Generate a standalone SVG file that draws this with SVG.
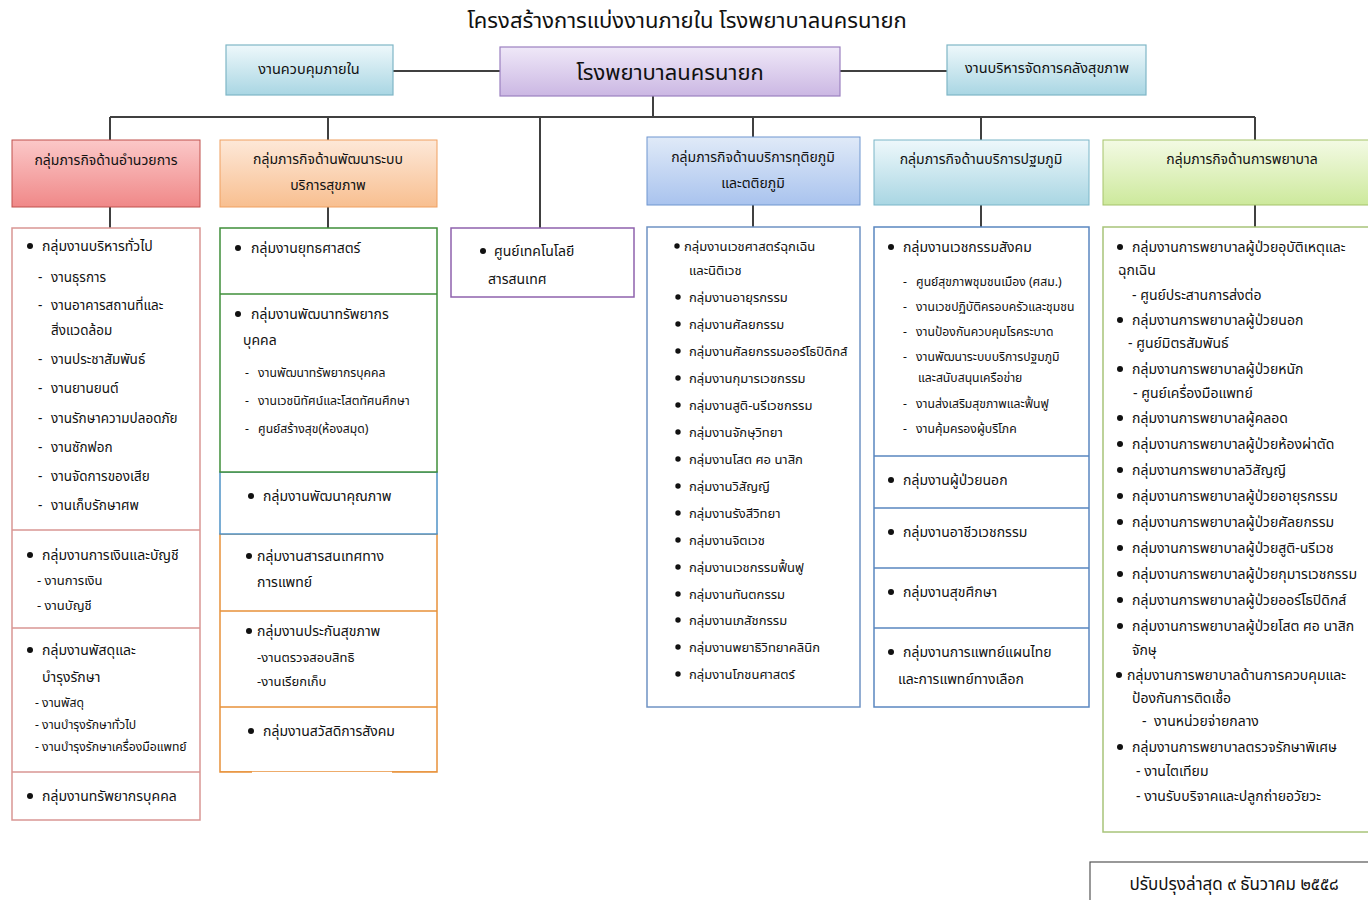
<svg xmlns="http://www.w3.org/2000/svg" width="1368" height="900" viewBox="0 0 1368 900">
<defs>
<linearGradient id="gTeal" x1="0" y1="0" x2="0" y2="1"><stop offset="0" stop-color="#eef8fb"/><stop offset="1" stop-color="#a9d6e3"/></linearGradient>
<linearGradient id="gPurple" x1="0" y1="0" x2="0" y2="1"><stop offset="0" stop-color="#efe8f8"/><stop offset="1" stop-color="#cbb7e3"/></linearGradient>
<linearGradient id="gRed" x1="0" y1="0" x2="0" y2="1"><stop offset="0" stop-color="#fbc8c8"/><stop offset="1" stop-color="#f08888"/></linearGradient>
<linearGradient id="gOrange" x1="0" y1="0" x2="0" y2="1"><stop offset="0" stop-color="#fde8d8"/><stop offset="1" stop-color="#f8bf90"/></linearGradient>
<linearGradient id="gBlue" x1="0" y1="0" x2="0" y2="1"><stop offset="0" stop-color="#e0eaf8"/><stop offset="1" stop-color="#a9c3ee"/></linearGradient>
<linearGradient id="gGreen" x1="0" y1="0" x2="0" y2="1"><stop offset="0" stop-color="#f3fae4"/><stop offset="1" stop-color="#cde99c"/></linearGradient>
</defs>
<style>
text{font-family:"Noto Sans Thai","Noto Sans","DejaVu Sans",sans-serif;fill:#111}
.t{font-size:22px}
.hq{font-size:22px}
.h{font-size:14px}
.top{font-size:14.5px}
.i{font-size:13px}
.s2{font-size:13.5px}
.s3{font-size:13px}
.xs{font-size:12.2px}
.ft{font-size:17px}
.c{text-anchor:middle}
.ln{stroke:#404040;stroke-width:2;fill:none}
.b{fill:#111}
</style>
<rect width="1368" height="900" fill="#ffffff"/>
<text class="t c" x="687" y="28">โครงสร้างการแบ่งงานภายใน โรงพยาบาลนครนายก</text>

<g id="connectors">
<path class="ln" d="M393 71H500M840 71H947M653 96V117M110 117H1255M110 117V140M328 117V140M540 117V228M753 117V137M981 117V140M1255 117V140M110 207V228M328 207V228M753 205V227M981 205V227M1255 205V227"/>
</g>

<g id="internal-control">
<rect x="226" y="45" width="167" height="50" fill="url(#gTeal)" stroke="#7fb6c6" stroke-width="1.2"/>
<text class="top c" x="309" y="74">งานควบคุมภายใน</text>
</g>
<g id="hospital">
<rect x="500" y="47" width="340" height="49" fill="url(#gPurple)" stroke="#9b80c0" stroke-width="1.2"/>
<text class="hq c" x="670" y="80">โรงพยาบาลนครนายก</text>
</g>
<g id="health-store">
<rect x="947" y="45" width="199" height="50" fill="url(#gTeal)" stroke="#7fb6c6" stroke-width="1.2"/>
<text class="top c" x="1047" y="73">งานบริหารจัดการคลังสุขภาพ</text>
</g>

<!-- Column 1 -->
<g id="admin-head">
<rect x="12" y="140" width="188" height="67" fill="url(#gRed)" stroke="#c0504d" stroke-width="1"/>
<text class="h c" x="106" y="165">กลุ่มภารกิจด้านอำนวยการ</text>
</g>
<g id="admin-body" fill="none" stroke="#d99694" stroke-width="1.5">
<rect x="12" y="228" width="188" height="592" fill="#fff"/>
<path d="M12 530H200M12 628H200M12 772H200"/>
</g>
<g id="admin-text">
<circle class="b" cx="30" cy="246" r="3"/><text class="h" x="42" y="251">กลุ่มงานบริหารทั่วไป</text>
<text class="s2" x="38" y="282">-</text><text class="s2" x="51" y="282">งานธุรการ</text>
<text class="s2" x="38" y="310">-</text><text class="s2" x="51" y="310">งานอาคารสถานที่และ</text>
<text class="s2" x="51" y="335">สิ่งแวดล้อม</text>
<text class="s2" x="38" y="364">-</text><text class="s2" x="51" y="364">งานประชาสัมพันธ์</text>
<text class="s2" x="38" y="393">-</text><text class="s2" x="51" y="393">งานยานยนต์</text>
<text class="s2" x="38" y="423">-</text><text class="s2" x="51" y="423">งานรักษาความปลอดภัย</text>
<text class="s2" x="38" y="452">-</text><text class="s2" x="51" y="452">งานซักฟอก</text>
<text class="s2" x="38" y="481">-</text><text class="s2" x="51" y="481">งานจัดการของเสีย</text>
<text class="s2" x="38" y="510">-</text><text class="s2" x="51" y="510">งานเก็บรักษาศพ</text>
<circle class="b" cx="30" cy="555" r="3"/><text class="h" x="42" y="560">กลุ่มงานการเงินและบัญชี</text>
<text class="s3" x="37" y="585">- งานการเงิน</text>
<text class="s3" x="37" y="610">- งานบัญชี</text>
<circle class="b" cx="30" cy="650" r="3"/><text class="h" x="42" y="655">กลุ่มงานพัสดุและ</text>
<text class="h" x="42" y="682">บำรุงรักษา</text>
<text class="xs" x="35" y="707">- งานพัสดุ</text>
<text class="xs" x="35" y="729">- งานบำรุงรักษาทั่วไป</text>
<text class="xs" x="35" y="751">- งานบำรุงรักษาเครื่องมือแพทย์</text>
<circle class="b" cx="30" cy="796" r="3"/><text class="h" x="42" y="801">กลุ่มงานทรัพยากรบุคคล</text>
</g>

<!-- Column 2 -->
<g id="system-head">
<rect x="220" y="140" width="217" height="67" fill="url(#gOrange)" stroke="#f0a060" stroke-width="1"/>
<text class="h c" x="328" y="164">กลุ่มภารกิจด้านพัฒนาระบบ</text>
<text class="h c" x="328" y="190">บริการสุขภาพ</text>
</g>
<g id="system-body" fill="#fff" stroke-width="1.5">
<rect x="220" y="534" width="217" height="238" stroke="#e8913a"/>
<path d="M220 611H437M220 707H437" stroke="#e8913a"/>
<rect x="220" y="772" width="217" height="4" fill="#fff" stroke="none"/>
<path d="M220 772H252M392 772H437" stroke="#e8913a"/>
<rect x="220" y="472" width="217" height="62" stroke="#4f92c6"/>
<rect x="220" y="228" width="217" height="244" stroke="#3f8f3a"/>
<path d="M220 294H437" stroke="#3f8f3a"/>
</g>
<g id="system-text">
<circle class="b" cx="238" cy="248" r="3"/><text class="h" x="251" y="253">กลุ่มงานยุทธศาสตร์</text>
<circle class="b" cx="238" cy="314" r="3"/><text class="h" x="251" y="319">กลุ่มงานพัฒนาทรัพยากร</text>
<text class="h" x="243" y="345">บุคคล</text>
<text class="xs" x="245" y="377">-</text><text class="xs" x="258" y="377">งานพัฒนาทรัพยากรบุคคล</text>
<text class="xs" x="245" y="405">-</text><text class="xs" x="258" y="405">งานเวชนิทัศน์และโสตทัศนศึกษา</text>
<text class="xs" x="245" y="433">-</text><text class="xs" x="258" y="433">ศูนย์สร้างสุข(ห้องสมุด)</text>
<circle class="b" cx="251" cy="496" r="3"/><text class="h" x="263" y="501">กลุ่มงานพัฒนาคุณภาพ</text>
<circle class="b" cx="249" cy="556" r="3"/><text class="h" x="257" y="561">กลุ่มงานสารสนเทศทาง</text>
<text class="h" x="257" y="587">การแพทย์</text>
<circle class="b" cx="249" cy="631" r="3"/><text class="h" x="257" y="636">กลุ่มงานประกันสุขภาพ</text>
<text class="s3" x="257" y="662">-งานตรวจสอบสิทธิ</text>
<text class="s3" x="257" y="686">-งานเรียกเก็บ</text>
<circle class="b" cx="251" cy="731" r="3"/><text class="h" x="263" y="736">กลุ่มงานสวัสดิการสังคม</text>
</g>

<!-- Tech -->
<g id="tech">
<rect x="451" y="228" width="183" height="69" fill="#fff" stroke="#8e62ad" stroke-width="1.5"/>
<circle class="b" cx="483" cy="251" r="3"/><text class="h" x="494" y="256">ศูนย์เทคโนโลยี</text>
<text class="h" x="488" y="284">สารสนเทศ</text>
</g>

<!-- Column 4 -->
<g id="secondary-head">
<rect x="647" y="137" width="213" height="68" fill="url(#gBlue)" stroke="#6f96cf" stroke-width="1"/>
<text class="h c" x="753" y="162">กลุ่มภารกิจด้านบริการทุติยภูมิ</text>
<text class="h c" x="753" y="188">และตติยภูมิ</text>
</g>
<g id="secondary-body">
<rect x="647" y="227" width="213" height="480" fill="#fff" stroke="#6f93c4" stroke-width="1.5"/>
<circle class="b" cx="677" cy="246" r="2.7"/><text class="i" x="684" y="251">กลุ่มงานเวชศาสตร์ฉุกเฉิน</text>
<text class="i" x="689" y="275">และนิติเวช</text>
<circle class="b" cx="678" cy="297" r="2.7"/><text class="i" x="689" y="302">กลุ่มงานอายุรกรรม</text>
<circle class="b" cx="678" cy="324" r="2.7"/><text class="i" x="689" y="329">กลุ่มงานศัลยกรรม</text>
<circle class="b" cx="678" cy="351" r="2.7"/><text class="i" x="689" y="356">กลุ่มงานศัลยกรรมออร์โธปิดิกส์</text>
<circle class="b" cx="678" cy="378" r="2.7"/><text class="i" x="689" y="383">กลุ่มงานกุมารเวชกรรม</text>
<circle class="b" cx="678" cy="405" r="2.7"/><text class="i" x="689" y="410">กลุ่มงานสูติ-นรีเวชกรรม</text>
<circle class="b" cx="678" cy="432" r="2.7"/><text class="i" x="689" y="437">กลุ่มงานจักษุวิทยา</text>
<circle class="b" cx="678" cy="459" r="2.7"/><text class="i" x="689" y="464">กลุ่มงานโสต ศอ นาสิก</text>
<circle class="b" cx="678" cy="486" r="2.7"/><text class="i" x="689" y="491">กลุ่มงานวิสัญญี</text>
<circle class="b" cx="678" cy="513" r="2.7"/><text class="i" x="689" y="518">กลุ่มงานรังสีวิทยา</text>
<circle class="b" cx="678" cy="540" r="2.7"/><text class="i" x="689" y="545">กลุ่มงานจิตเวช</text>
<circle class="b" cx="678" cy="567" r="2.7"/><text class="i" x="689" y="572">กลุ่มงานเวชกรรมฟื้นฟู</text>
<circle class="b" cx="678" cy="594" r="2.7"/><text class="i" x="689" y="599">กลุ่มงานทันตกรรม</text>
<circle class="b" cx="678" cy="620" r="2.7"/><text class="i" x="689" y="625">กลุ่มงานเภสัชกรรม</text>
<circle class="b" cx="678" cy="647" r="2.7"/><text class="i" x="689" y="652">กลุ่มงานพยาธิวิทยาคลินิก</text>
<circle class="b" cx="678" cy="674" r="2.7"/><text class="i" x="689" y="679">กลุ่มงานโภชนศาสตร์</text>
</g>

<!-- Column 5 -->
<g id="primary-head">
<rect x="874" y="140" width="215" height="65" fill="url(#gTeal)" stroke="#7bb6c8" stroke-width="1"/>
<text class="h c" x="981" y="164">กลุ่มภารกิจด้านบริการปฐมภูมิ</text>
</g>
<g id="primary-body">
<rect x="874" y="227" width="215" height="480" fill="#fff" stroke="#5a86c0" stroke-width="1.5"/>
<path d="M874 456H1089M874 508H1089M874 568H1089M874 628H1089" stroke="#5a86c0" stroke-width="1.5"/>
<circle class="b" cx="891" cy="247" r="3"/><text class="h" x="903" y="252">กลุ่มงานเวชกรรมสังคม</text>
<text class="xs" x="903" y="286">-</text><text class="xs" x="916" y="286">ศูนย์สุขภาพชุมชนเมือง (ศสม.)</text>
<text class="xs" x="903" y="311">-</text><text class="xs" x="916" y="311">งานเวชปฏิบัติครอบครัวและชุมชน</text>
<text class="xs" x="903" y="336">-</text><text class="xs" x="916" y="336">งานป้องกันควบคุมโรคระบาด</text>
<text class="xs" x="903" y="361">-</text><text class="xs" x="916" y="361">งานพัฒนาระบบบริการปฐมภูมิ</text>
<text class="xs" x="918" y="382">และสนับสนุนเครือข่าย</text>
<text class="xs" x="903" y="408">-</text><text class="xs" x="916" y="408">งานส่งเสริมสุขภาพและฟื้นฟู</text>
<text class="xs" x="903" y="433">-</text><text class="xs" x="916" y="433">งานคุ้มครองผู้บริโภค</text>
<circle class="b" cx="891" cy="480" r="3"/><text class="h" x="903" y="485">กลุ่มงานผู้ป่วยนอก</text>
<circle class="b" cx="891" cy="532" r="3"/><text class="h" x="903" y="537">กลุ่มงานอาชีวเวชกรรม</text>
<circle class="b" cx="891" cy="592" r="3"/><text class="h" x="903" y="597">กลุ่มงานสุขศึกษา</text>
<circle class="b" cx="891" cy="652" r="3"/><text class="h" x="903" y="657">กลุ่มงานการแพทย์แผนไทย</text>
<text class="h" x="898" y="684">และการแพทย์ทางเลือก</text>
</g>

<!-- Column 6 -->
<g id="nursing-head">
<rect x="1103" y="140" width="270" height="65" fill="url(#gGreen)" stroke="#a5c36a" stroke-width="1"/>
<text class="h c" x="1242" y="164">กลุ่มภารกิจด้านการพยาบาล</text>
</g>
<g id="nursing-body">
<rect x="1103" y="227" width="270" height="605" fill="#fff" stroke="#a8c47a" stroke-width="1.5"/>
<circle class="b" cx="1120" cy="247" r="3"/><text class="h" x="1132" y="252">กลุ่มงานการพยาบาลผู้ป่วยอุบัติเหตุและ</text>
<text class="h" x="1118" y="275">ฉุกเฉิน</text>
<text class="h" x="1132" y="300">- ศูนย์ประสานการส่งต่อ</text>
<circle class="b" cx="1120" cy="320" r="3"/><text class="h" x="1132" y="325">กลุ่มงานการพยาบาลผู้ป่วยนอก</text>
<text class="h" x="1128" y="348">- ศูนย์มิตรสัมพันธ์</text>
<circle class="b" cx="1120" cy="369" r="3"/><text class="h" x="1132" y="374">กลุ่มงานการพยาบาลผู้ป่วยหนัก</text>
<text class="h" x="1133" y="398">- ศูนย์เครื่องมือแพทย์</text>
<circle class="b" cx="1120" cy="418" r="3"/><text class="h" x="1132" y="423">กลุ่มงานการพยาบาลผู้คลอด</text>
<circle class="b" cx="1120" cy="444" r="3"/><text class="h" x="1132" y="449">กลุ่มงานการพยาบาลผู้ป่วยห้องผ่าตัด</text>
<circle class="b" cx="1120" cy="470" r="3"/><text class="h" x="1132" y="475">กลุ่มงานการพยาบาลวิสัญญี</text>
<circle class="b" cx="1120" cy="496" r="3"/><text class="h" x="1132" y="501">กลุ่มงานการพยาบาลผู้ป่วยอายุรกรรม</text>
<circle class="b" cx="1120" cy="522" r="3"/><text class="h" x="1132" y="527">กลุ่มงานการพยาบาลผู้ป่วยศัลยกรรม</text>
<circle class="b" cx="1120" cy="548" r="3"/><text class="h" x="1132" y="553">กลุ่มงานการพยาบาลผู้ป่วยสูติ-นรีเวช</text>
<circle class="b" cx="1120" cy="574" r="3"/><text class="h" x="1132" y="579">กลุ่มงานการพยาบาลผู้ป่วยกุมารเวชกรรม</text>
<circle class="b" cx="1120" cy="600" r="3"/><text class="h" x="1132" y="605">กลุ่มงานการพยาบาลผู้ป่วยออร์โธปิดิกส์</text>
<circle class="b" cx="1120" cy="626" r="3"/><text class="h" x="1132" y="631">กลุ่มงานการพยาบาลผู้ป่วยโสต ศอ นาสิก</text>
<text class="h" x="1132" y="655">จักษุ</text>
<circle class="b" cx="1119" cy="675" r="3"/><text class="h" x="1127" y="680">กลุ่มงานการพยาบาลด้านการควบคุมและ</text>
<text class="h" x="1132" y="703">ป้องกันการติดเชื้อ</text>
<text class="h" x="1142" y="726">-</text><text class="h" x="1154" y="726">งานหน่วยจ่ายกลาง</text>
<circle class="b" cx="1120" cy="747" r="3"/><text class="h" x="1132" y="752">กลุ่มงานการพยาบาลตรวจรักษาพิเศษ</text>
<text class="h" x="1136" y="776">- งานไตเทียม</text>
<text class="h" x="1136" y="801">- งานรับบริจาคและปลูกถ่ายอวัยวะ</text>
</g>

<g id="updated">
<rect x="1090" y="862" width="290" height="50" fill="#fff" stroke="#555" stroke-width="1.2"/>
<text class="ft c" x="1234" y="890">ปรับปรุงล่าสุด ๙ ธันวาคม ๒๕๕๘</text>
</g>
</svg>
